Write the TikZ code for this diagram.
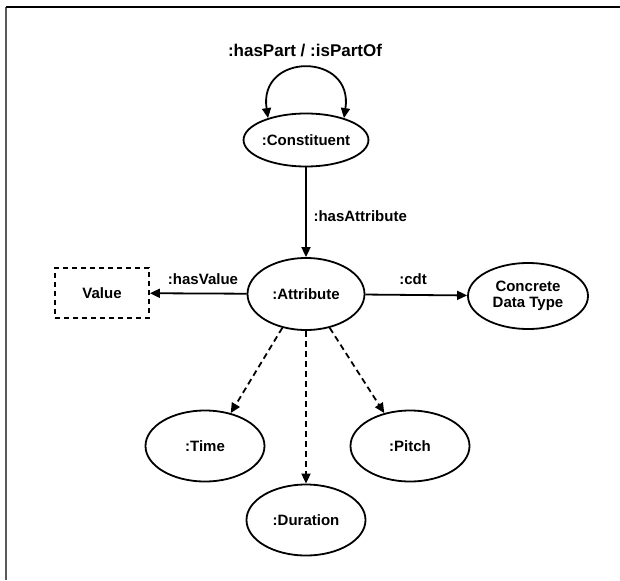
\documentclass[tikz,border=0pt]{standalone}
\usepackage{fontspec}
\setmainfont{Liberation Sans}
\usetikzlibrary{shapes.geometric,arrows.meta}
\begin{document}
\begin{tikzpicture}[x=1pt,y=-1pt,
  lbl/.style={font=\bfseries\fontsize{15}{17}\selectfont},
  ell/.style={ellipse,draw,line width=1.8pt,inner sep=0pt,align=center,font=\bfseries\fontsize{15}{17}\selectfont},
  arr/.style={line width=1.8pt,-{Triangle[length=10pt,width=9pt]}},
  darr/.style={arr,dash pattern=on 6pt off 4pt}]
\useasboundingbox (0,0) rectangle (620,580);
\fill[white] (0,0) rectangle (620,580);
\coordinate (tl) at (6,7);
\coordinate (tr) at (620,7);
\coordinate (bl) at (6,580);
\draw[line width=2pt,gray!70!black] (tl) -- (bl);
\draw[line width=2pt] (tl) -- (tr);

\node[ell,minimum width=117pt,minimum height=53pt] (con) at (306,140) {:Constituent};
\node[ell,minimum width=117pt,minimum height=72pt] (att) at (306,294) {:Attribute};
\node[ell,minimum width=120pt,minimum height=66pt] (cdt) at (528,296) {Concrete\\[-1pt]Data Type};
\node[ell,minimum width=119pt,minimum height=71pt] (tim) at (205,446) {:Time};
\node[ell,minimum width=119pt,minimum height=71pt] (dur) at (306,520) {:Duration};
\node[ell,minimum width=119pt,minimum height=71pt] (pit) at (410,446) {:Pitch};
\node[draw,line width=1.8pt,dash pattern=on 5pt off 4pt,minimum width=94pt,minimum height=50pt,inner sep=0pt,font=\bfseries\fontsize{15}{17}\selectfont] (val) at (102,293) {Value};

\draw[arr,{Triangle[length=10pt,width=9pt]}-{Triangle[length=10pt,width=9pt]}] (con.150) .. controls (258,52) and (354,52) .. (con.30);
\node[font=\bfseries\fontsize{17}{19}\selectfont] (lp) at (305,51) {:hasPart / :isPartOf};

\draw[arr] (con) -- (att);
\node[lbl,anchor=west] (lha) at (310,216) {:hasAttribute};
\draw[arr] (att) -- (val);
\node[lbl] (lhv) at (203,279) {:hasValue};
\draw[arr] (att) -- (cdt);
\node[lbl] (lcd) at (413,279) {:cdt};

\draw[darr] (att.235) -- (tim.52);
\draw[darr] (att.south) -- (dur.north);
\draw[darr] (att.-55) -- (pit.128);
\end{tikzpicture}
\end{document}
